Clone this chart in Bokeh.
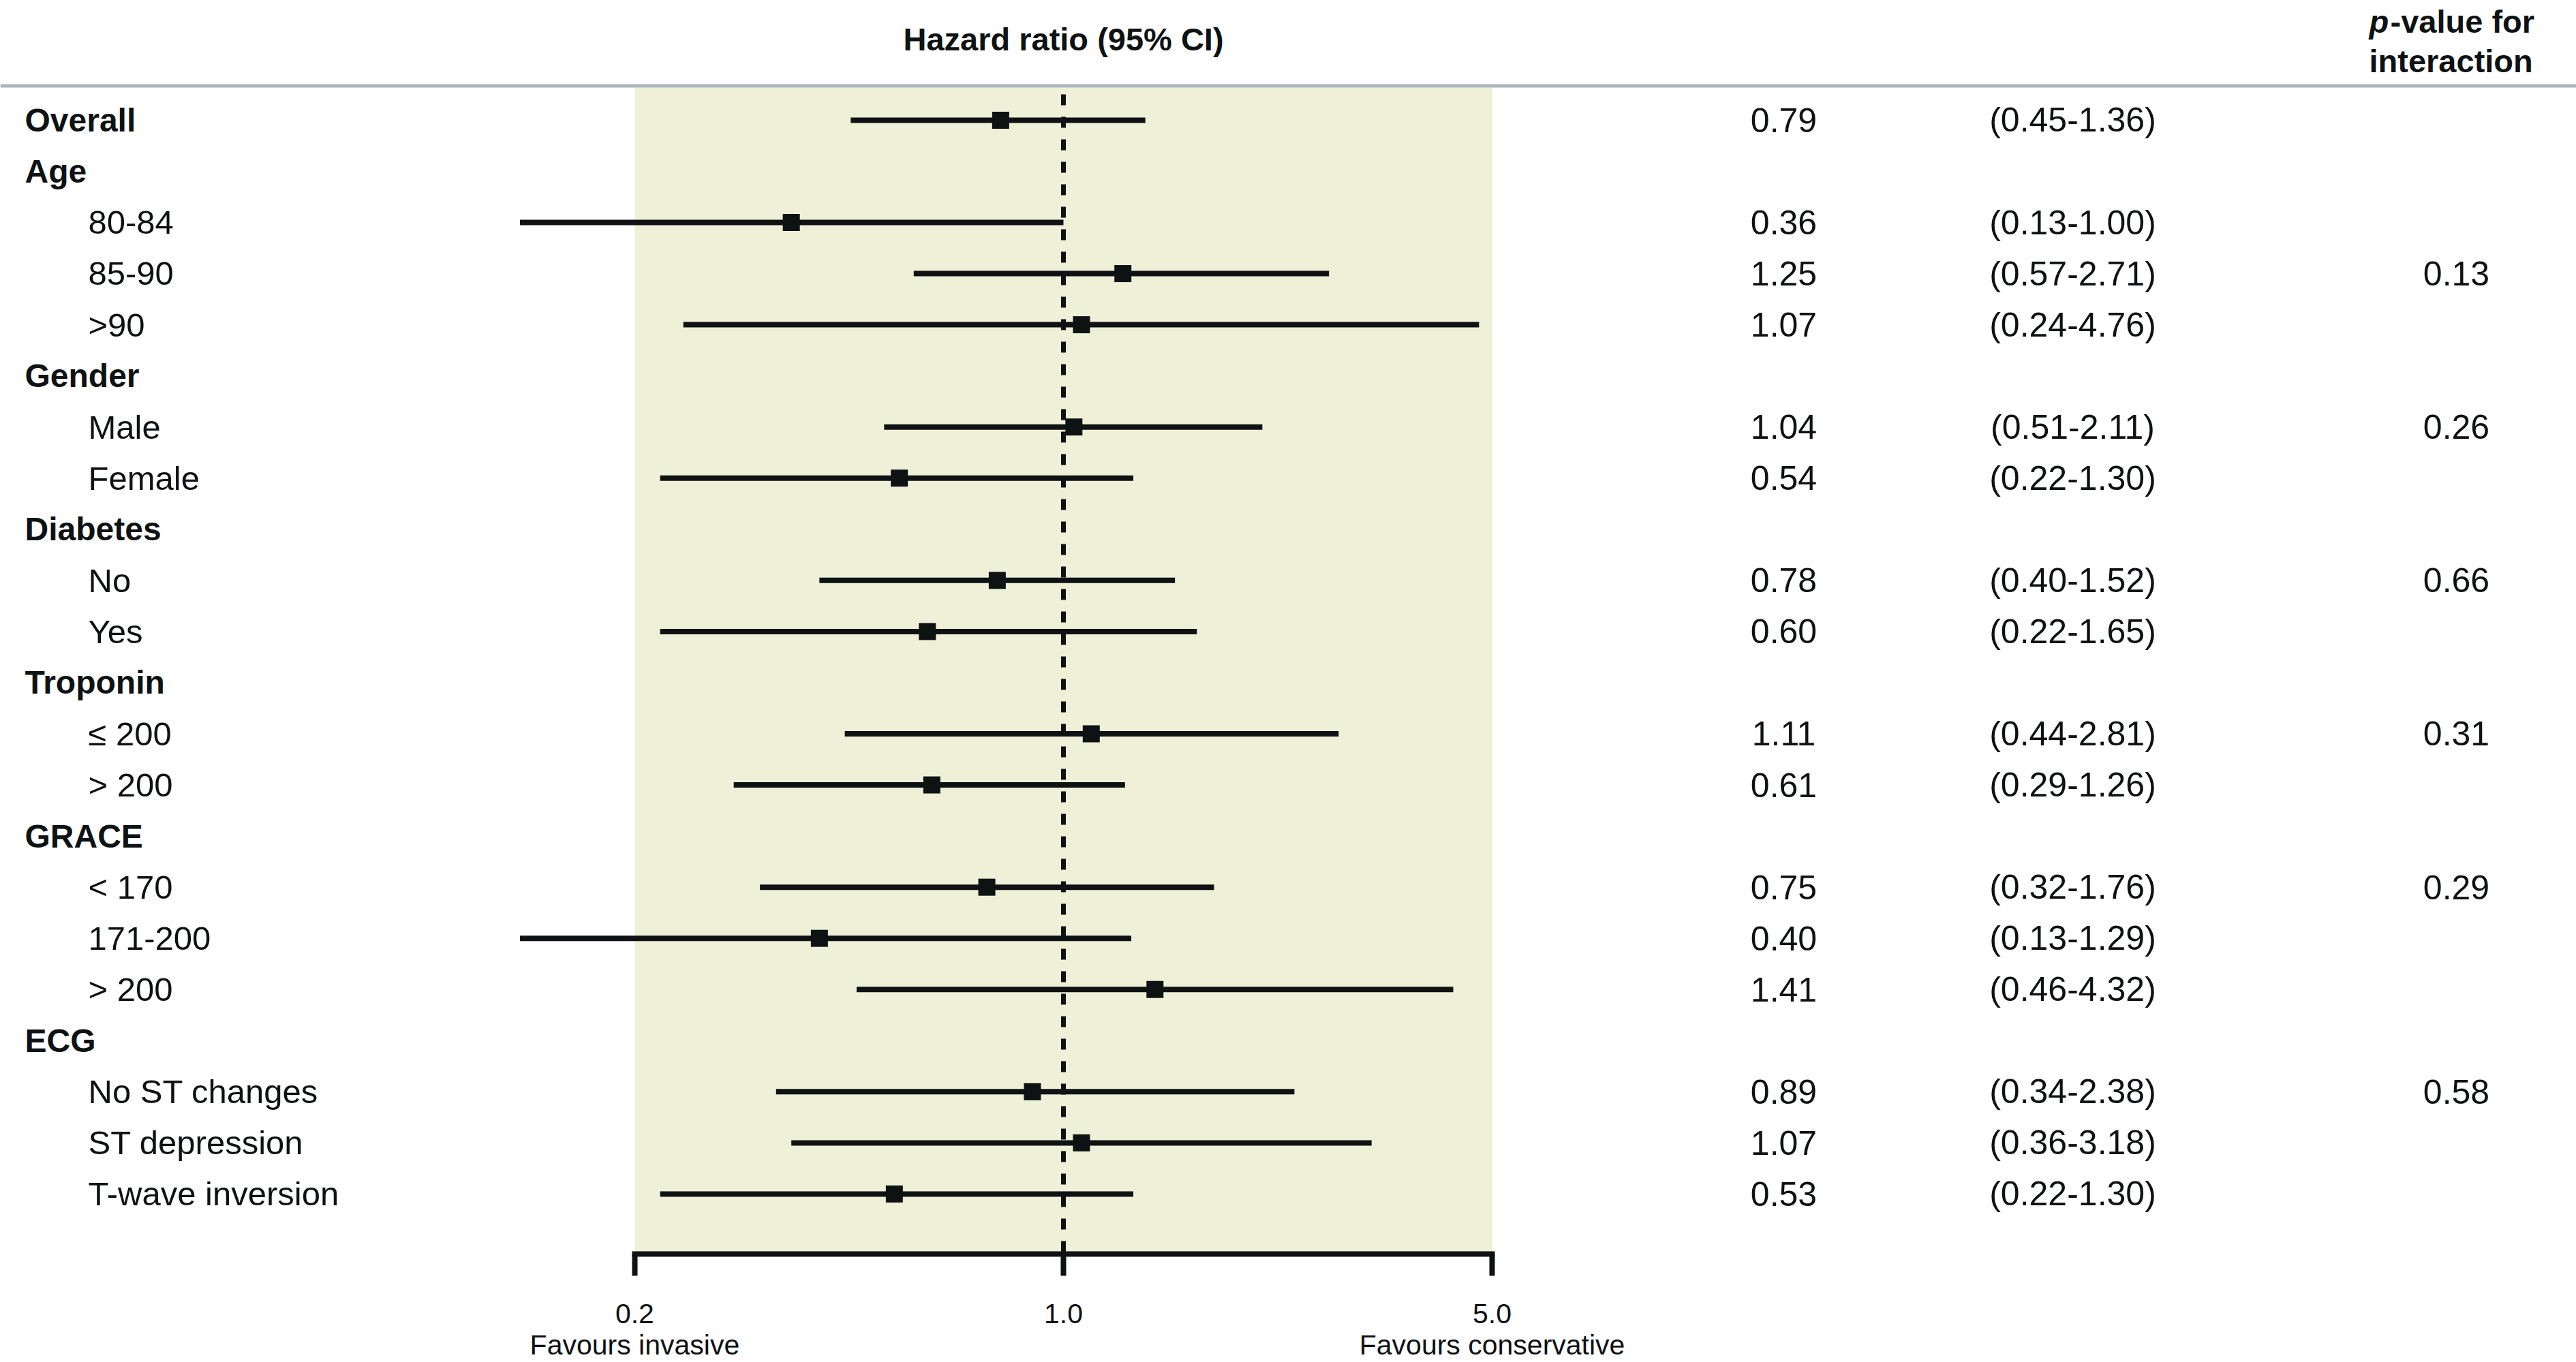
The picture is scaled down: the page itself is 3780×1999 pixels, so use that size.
from bokeh.plotting import figure
from bokeh.models import Range1d, LogScale, LogAxis, FixedTicker, Span, ColumnDataSource
from bokeh.core.properties import value
from bokeh.embed import file_html
from bokeh.resources import INLINE

# ---------------- data ----------------
labels = ["Overall", "Age", "80-84", "85-90", ">90", "Gender", "Male", "Female",
          "Diabetes", "No", "Yes", "Troponin", "\u2264 200", "> 200", "GRACE",
          "< 170", "171-200", "> 200", "ECG", "No ST changes", "ST depression",
          "T-wave inversion"]
is_group = [True, True, False, False, False, True, False, False,
            True, False, False, True, False, False, True,
            False, False, False, True, False, False, False]
hr = [0.79, None, 0.36, 1.25, 1.07, None, 1.04, 0.54,
      None, 0.78, 0.60, None, 1.11, 0.61, None,
      0.75, 0.40, 1.41, None, 0.89, 1.07, 0.53]
ci_low = [0.45, None, 0.13, 0.57, 0.24, None, 0.51, 0.22,
          None, 0.40, 0.22, None, 0.44, 0.29, None,
          0.32, 0.13, 0.46, None, 0.34, 0.36, 0.22]
ci_high = [1.36, None, 1.00, 2.71, 4.76, None, 2.11, 1.30,
           None, 1.52, 1.65, None, 2.81, 1.26, None,
           1.76, 1.29, 4.32, None, 2.38, 3.18, 1.30]
p_interaction = [None, None, None, "0.13", None, None, "0.26", None,
                 None, "0.66", None, None, "0.31", None, None,
                 "0.29", None, None, None, "0.58", None, None]
axis_ticks = [0.2, 1.0, 5.0]
axis_tick_labels = ["0.2", "1.0", "5.0"]
axis_side_labels = ["Favours invasive", "", "Favours conservative"]

# ---------------- layout ----------------
FONT = "Liberation Sans"
INK = "#0e1213"
SHADE = "#eff0d8"
RULE = "#a9b6ba"
W, H = 3780, 1999
FB = 1841                 # frame bottom (axis line), canvas px
ROW0, ROW_H = 176.0, 75.09
X1, DEC = 1560.0, 900.0   # canvas x of HR=1, px per decade


def yv(py):
    return (ROW0 - py) / ROW_H


p = figure(width=W, height=H, output_backend="svg", toolbar_location=None,
           x_range=Range1d(0, W), y_range=Range1d(yv(FB), yv(0)),
           x_axis_location=None, y_axis_location=None,
           min_border_left=0, min_border_right=0, min_border_top=0,
           min_border_bottom=H - FB)
p.extra_x_ranges = {"hr": Range1d(10 ** (-X1 / DEC), 10 ** ((W - X1) / DEC))}
p.extra_x_scales = {"hr": LogScale()}
p.outline_line_color = None
p.background_fill_color = "white"
p.border_fill_color = "white"
p.xgrid.visible = False
p.ygrid.visible = False

# shaded band
p.quad(left=[axis_ticks[0]], right=[axis_ticks[-1]], top=[yv(128)], bottom=[yv(FB + 20)],
       x_range_name="hr", fill_color=SHADE, line_color=None)

# header rule
p.add_layout(Span(location=yv(125.5), dimension="width", line_color=RULE, line_width=5))

# reference line
p.segment(x0=[1.0], x1=[1.0], y0=[yv(138)], y1=[yv(FB)], x_range_name="hr",
          line_color=INK, line_width=7, line_dash="16 17")

rows = [i for i in range(len(labels)) if hr[i] is not None]
src = ColumnDataSource(dict(
    y=[-i for i in rows],
    hr=[hr[i] for i in rows],
    lo=[ci_low[i] for i in rows],
    hi=[ci_high[i] for i in rows],
    hr_txt=["%.2f" % hr[i] for i in rows],
    ci_txt=["(%.2f-%.2f)" % (ci_low[i], ci_high[i]) for i in rows],
))
p.segment(x0="lo", x1="hi", y0="y", y1="y", source=src, x_range_name="hr",
          line_color=INK, line_width=8)
p.scatter(x="hr", y="y", source=src, x_range_name="hr", marker="square",
          size=25, fill_color=INK, line_color=None)

# row labels
g_idx = [i for i in range(len(labels)) if is_group[i]]
s_idx = [i for i in range(len(labels)) if not is_group[i]]
p.text(x=[36] * len(g_idx), y=[-i for i in g_idx], text=[labels[i] for i in g_idx],
       text_font=value(FONT), text_font_size="48px", text_font_style="bold",
       text_baseline="middle", text_align="left", text_color=INK)
p.text(x=[129] * len(s_idx), y=[-i for i in s_idx], text=[labels[i] for i in s_idx],
       text_font=value(FONT), text_font_size="49px",
       text_baseline="middle", text_align="left", text_color=INK)

# value columns
p.text(x=value(2617), y="y", text="hr_txt", source=src,
       text_font=value(FONT), text_font_size="50px",
       text_baseline="middle", text_align="center", text_color=INK)
p.text(x=value(3041), y="y", text="ci_txt", source=src,
       text_font=value(FONT), text_font_size="50px",
       text_baseline="middle", text_align="center", text_color=INK)
p_idx = [i for i in range(len(labels)) if p_interaction[i] is not None]
p.text(x=[3604] * len(p_idx), y=[-i for i in p_idx], text=[p_interaction[i] for i in p_idx],
       text_font=value(FONT), text_font_size="50px",
       text_baseline="middle", text_align="center", text_color=INK)

# headers
p.text(x=[1.0], y=[yv(57)], text=["Hazard ratio (95% CI)"], x_range_name="hr",
       text_font=value(FONT), text_font_size="47px", text_font_style="bold",
       text_baseline="middle", text_align="center", text_color=INK)
p.text(x=[3476], y=[yv(31)], text=["p"],
       text_font=value(FONT), text_font_size="47px", text_font_style="bold italic",
       text_baseline="middle", text_align="left", text_color=INK)
p.text(x=[3507], y=[yv(31)], text=["-value for"],
       text_font=value(FONT), text_font_size="47px", text_font_style="bold",
       text_baseline="middle", text_align="left", text_color=INK)
p.text(x=[3476], y=[yv(89)], text=["interaction"],
       text_font=value(FONT), text_font_size="47px", text_font_style="bold",
       text_baseline="middle", text_align="left", text_color=INK)

# axis: tick value with the "Favours ..." caption on a second line
tick_text = {t: (s if c == "" else s + "\n" + c)
             for t, s, c in zip(axis_ticks, axis_tick_labels, axis_side_labels)}
ax = LogAxis(x_range_name="hr", ticker=FixedTicker(ticks=axis_ticks, minor_ticks=[]),
             bounds=(axis_ticks[0], axis_ticks[-1]),
             major_label_overrides=tick_text,
             axis_line_color=INK, axis_line_width=8, axis_line_cap="square",
             major_tick_line_color=INK, major_tick_line_width=8,
             major_tick_in=0, major_tick_out=32, minor_tick_line_color=None,
             major_label_text_font=FONT, major_label_text_font_size="41px",
             major_label_text_line_height=1.0,
             major_label_text_color=INK, major_label_standoff=32)
p.add_layout(ax, "below")

open("out.html", "w").write(file_html(p, INLINE))
